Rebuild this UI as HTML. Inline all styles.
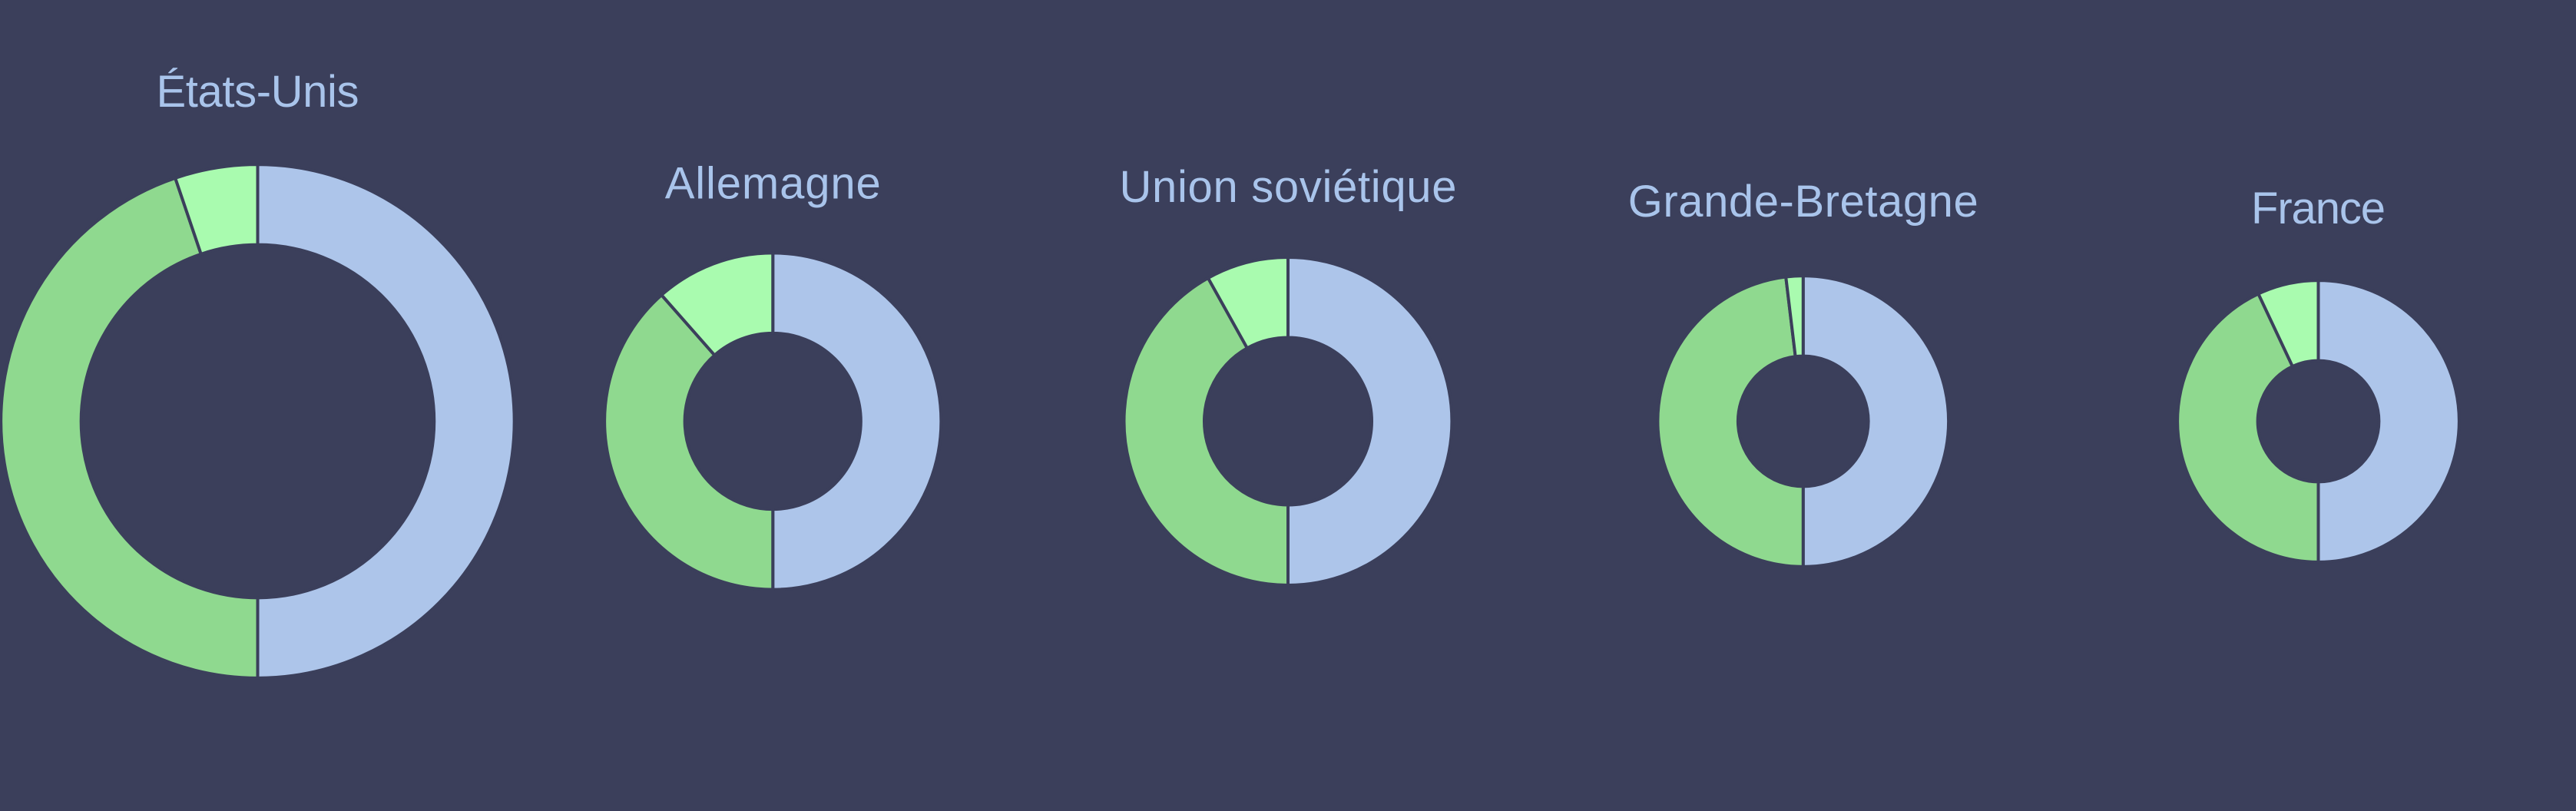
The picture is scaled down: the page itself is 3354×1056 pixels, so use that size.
<!DOCTYPE html>
<html lang="fr">
<head>
<meta charset="utf-8">
<title>Anneaux par pays</title>
<style>
  html, body { margin: 0; padding: 0; background: #3b3f5b; }
  #chart { display: block; width: 3354px; height: 1056px; }
  .title { font-family: "Liberation Sans", sans-serif; font-size: 58px; fill: #a9c4eb; text-anchor: middle; }
</style>
</head>
<body>
<svg id="chart" xmlns="http://www.w3.org/2000/svg" width="3354" height="1056" viewBox="0 0 3354 1056">
  <rect x="0" y="0" width="3354" height="1056" fill="#3b3f5b"></rect>
</svg>
<script>
const categories = ["États-Unis", "Allemagne", "Union soviétique", "Grande-Bretagne", "France"];
const totals = [100.4, 65.6, 63.9, 56.6, 54.8];
const seriesBlue = [50, 50, 50, 50, 50];
const seriesGreen = [44.8, 38.5, 41.9, 48.1, 43.0];
const seriesLight = [5.2, 11.5, 8.1, 1.9, 7.0];

const seriesKeys = ["bleu", "vert", "vert-clair"];
const seriesColors = ["#adc5ea", "#8fd98f", "#a9fbaf"];
const BG = "#3b3f5b";
const NS = "http://www.w3.org/2000/svg";
const svg = document.getElementById("chart");

const xOf = function (i) { return 335.5 + i * 670.75; };
const CY = 548.5;
const radiusOf = function (total) { return total * 3.31; };
const RING = 100.5;
const GAP = 4;
const TITLE_GAP = 75;
const titleNudge = [-2, 2, 1, -4, -1];
const titleWidth = [264, 281, 439, 456, 175];

function angleOf(cum, total) { return (cum / total) * Math.PI * 2; }
function pt(cx, cy, r, a) { return [cx + r * Math.sin(a), cy - r * Math.cos(a)]; }
function arcPath(cx, cy, r0, r1, a0, a1) {
  const large = a1 - a0 > Math.PI ? 1 : 0;
  const p0 = pt(cx, cy, r1, a0), p1 = pt(cx, cy, r1, a1), p2 = pt(cx, cy, r0, a1), p3 = pt(cx, cy, r0, a0);
  return "M" + p0[0] + " " + p0[1] +
    "A" + r1 + " " + r1 + " 0 " + large + " 1 " + p1[0] + " " + p1[1] +
    "L" + p2[0] + " " + p2[1] +
    "A" + r0 + " " + r0 + " 0 " + large + " 0 " + p3[0] + " " + p3[1] + "Z";
}

categories.forEach(function (name, i) {
  const cx = xOf(i);
  const rOuter = radiusOf(totals[i]);
  const rInner = rOuter - RING;
  const values = [seriesBlue[i], seriesGreen[i], seriesLight[i]];
  const sum = values[0] + values[1] + values[2];

  const group = document.createElementNS(NS, "g");
  
  
  svg.appendChild(group);

  const title = document.createElementNS(NS, "text");
  
  
  title.setAttribute("class", "title");
  title.setAttribute("x", cx);
  title.setAttribute("y", CY - rOuter - TITLE_GAP + titleNudge[i]);
  title.setAttribute("textLength", titleWidth[i]);
  title.setAttribute("lengthAdjust", "spacing");
  title.textContent = name;
  group.appendChild(title);

  let cum = 0;
  values.forEach(function (v, s) {
    const a0 = angleOf(cum, sum);
    cum += v;
    const a1 = angleOf(cum, sum);
    const slice = document.createElementNS(NS, "path");
    
    
    slice.setAttribute("data-series", seriesKeys[s]);
    slice.setAttribute("d", arcPath(cx, CY, rInner - GAP / 2, rOuter + GAP / 2, a0, a1));
    slice.setAttribute("fill", seriesColors[s]);
    slice.setAttribute("stroke", BG);
    slice.setAttribute("stroke-width", GAP);
    slice.setAttribute("stroke-linejoin", "miter");
    group.appendChild(slice);
  });
});
</script>
</body>
</html>
